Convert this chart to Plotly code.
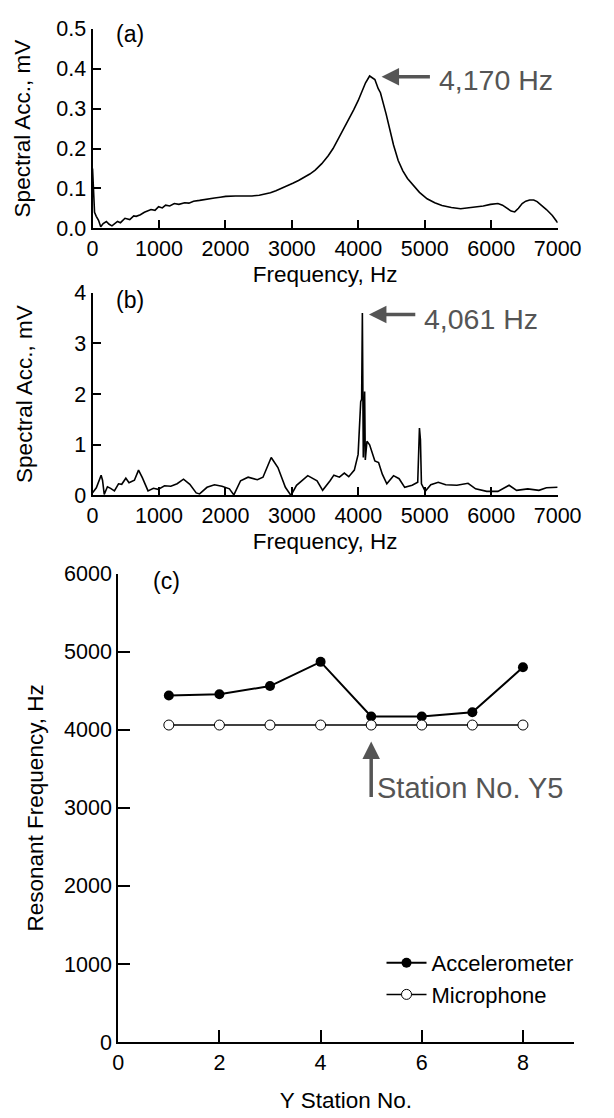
import plotly.graph_objects as go

FONT = "Liberation Sans, Arial, Helvetica, sans-serif"
GREY = "#555555"

# ---- (a) accelerometer spectrum ----
PEAK_A = 4170
freq_a = [0, 8, 15, 30, 56, 90, 123, 160, 208, 250, 292, 330, 376, 420, 488, 560,
          620, 657, 720, 780, 825, 880, 940, 994, 1050, 1100, 1162, 1230, 1300, 1386,
          1450, 1520, 1611, 1700, 1835, 1920, 2004, 2150, 2285, 2400, 2509, 2600, 2677,
          2760, 2846, 2930, 3014, 3100, 3183, 3270, 3351, 3450, 3547, 3620, 3688, 3770,
          3856, 3930, 3997, 4060, 4109, PEAK_A, 4249, 4300, 4333, 4418, 4470, 4530, 4600,
          4670, 4740, 4810, 4920, 5035, 5150, 5259, 5400, 5540, 5650, 5765, 5880, 5989,
          6101, 6170, 6242, 6300, 6354, 6410, 6466, 6520, 6578, 6640, 6691, 6760, 6831,
          6920, 7000]
acc_a = [0.15, 0.12, 0.07, 0.04, 0.03, 0.02, 0.004, 0.012, 0.017, 0.01, 0.006, 0.012,
         0.017, 0.014, 0.025, 0.022, 0.031, 0.03, 0.034, 0.04, 0.043, 0.047, 0.045,
         0.054, 0.051, 0.058, 0.056, 0.062, 0.06, 0.064, 0.063, 0.068, 0.07, 0.073,
         0.076, 0.078, 0.08, 0.081, 0.081, 0.081, 0.083, 0.086, 0.089, 0.094, 0.1,
         0.106, 0.113, 0.12, 0.127, 0.136, 0.146, 0.162, 0.182, 0.2, 0.221, 0.246,
         0.271, 0.297, 0.32, 0.345, 0.365, 0.382, 0.373, 0.35, 0.34, 0.287, 0.25,
         0.209, 0.17, 0.144, 0.125, 0.111, 0.09, 0.074, 0.064, 0.057, 0.052, 0.049,
         0.051, 0.053, 0.056, 0.06, 0.062, 0.058, 0.049, 0.043, 0.041, 0.05, 0.062,
         0.068, 0.071, 0.071, 0.067, 0.058, 0.047, 0.032, 0.014]

# ---- (b) microphone spectrum ----
PEAK_B = 4061
freq_b = [0, 57, 129, 150, 176, 224, 272, 329, 391, 439, 501, 549, 630, 692, 749, 835,
          916, 987, 1083, 1178, 1273, 1369, 1464, 1560, 1611, 1723, 1835, 1948, 2060,
          2127, 2228, 2341, 2481, 2565, 2689, 2790, 2902, 2986, 3070, 3239, 3379, 3463,
          3575, 3632, 3716, 3789, 3856, 3940, 3997, 4036, 4050, PEAK_B, 4075, 4095, 4105,
          4130, 4170, 4249, 4305, 4361, 4429, 4530, 4614, 4698, 4810, 4894, 4920, 4935,
          4950, 5007, 5091, 5203, 5315, 5484, 5652, 5765, 5933, 6101, 6269, 6382, 6550,
          6718, 6831, 7000]
amp_b = [0.05, 0.15, 0.4, 0.3, 0.02, 0.17, 0.14, 0.09, 0.23, 0.22, 0.34, 0.25, 0.3,
         0.5, 0.35, 0.09, 0.14, 0.12, 0.19, 0.18, 0.23, 0.32, 0.22, 0.05, 0.03, 0.16,
         0.21, 0.18, 0.13, 0.01, 0.29, 0.36, 0.31, 0.36, 0.75, 0.55, 0.16, 0.0, 0.2,
         0.39, 0.29, 0.1, 0.29, 0.4, 0.36, 0.44, 0.37, 0.5, 0.81, 1.85, 1.9, 3.6, 0.75,
         2.05, 0.7, 1.07, 1.0, 0.68, 0.65, 0.42, 0.23, 0.39, 0.33, 0.16, 0.2, 0.26,
         1.33, 1.1, 0.23, 0.08, 0.21, 0.26, 0.21, 0.2, 0.24, 0.13, 0.08, 0.08, 0.2,
         0.1, 0.13, 0.1, 0.15, 0.16]

# ---- (c) resonant frequency by station ----
stations = [1, 2, 3, 4, 5, 6, 7, 8]
accel_res = [4440, 4455, 4560, 4870, 4170, 4170, 4225, 4800]
micro_res = [4061, 4061, 4061, 4061, 4061, 4061, 4061, 4061]

fig = go.Figure()
fig.add_trace(go.Scatter(x=freq_a, y=acc_a, xaxis="x", yaxis="y", mode="lines",
                         line=dict(color="black", width=1.6), showlegend=False))
fig.add_trace(go.Scatter(x=freq_b, y=amp_b, xaxis="x2", yaxis="y2", mode="lines",
                         line=dict(color="black", width=1.6), showlegend=False))
fig.add_trace(go.Scatter(x=stations, y=accel_res, xaxis="x3", yaxis="y3",
                         mode="lines+markers", name="Accelerometer",
                         line=dict(color="black", width=2),
                         marker=dict(color="black", size=10, symbol="circle")))
fig.add_trace(go.Scatter(x=stations, y=micro_res, xaxis="x3", yaxis="y3",
                         mode="lines+markers", name="Microphone",
                         line=dict(color="black", width=1.5),
                         marker=dict(color="white", size=10, symbol="circle",
                                     line=dict(color="black", width=1))))

tick_font = dict(family=FONT, size=21.5, color="black")
title_font = dict(family=FONT, size=22.5, color="black")


def ax_style(**kw):
    base = dict(showline=True, linecolor="black", linewidth=2, ticks="inside",
                tickcolor="black", tickwidth=2, ticklen=8, showgrid=False,
                zeroline=False, tickfont=tick_font, title_font=title_font,
                fixedrange=True)
    base.update(kw)
    return base


fig.update_layout(
    width=614, height=1118, autosize=False,
    margin=dict(l=0, r=0, t=0, b=0),
    paper_bgcolor="white", plot_bgcolor="white",
    font=dict(family=FONT, color="black"),
    xaxis=ax_style(domain=[0.1482, 0.9446], anchor="y", range=[0, 7000], dtick=1000,
                   tickformat="d", title=dict(text="Frequency, Hz", standoff=6)),
    yaxis=ax_style(domain=[0.8014, 0.9836], anchor="x", range=[0, 0.5], dtick=0.1,
                   tickformat=".1f", title=dict(text="Spectral Acc., mV", standoff=19)),
    xaxis2=ax_style(domain=[0.1482, 0.9446], anchor="y2", range=[0, 7000], dtick=1000,
                    tickformat="d", title=dict(text="Frequency, Hz", standoff=6)),
    yaxis2=ax_style(domain=[0.5572, 0.7424], anchor="x2", range=[0, 4], dtick=1,
                    title=dict(text="Spectral Acc., mV", standoff=35)),
    xaxis3=ax_style(domain=[0.1922, 0.9718], anchor="y3", range=[0, 9],
                    tickvals=[0, 2, 4, 6, 8], ticklen=12,
                    title=dict(text="Y Station No.", standoff=18)),
    yaxis3=ax_style(domain=[0.0575, 0.4857], anchor="x3", range=[0, 6000], dtick=1000,
                    tickformat="d", ticklen=12,
                    title=dict(text="Resonant Frequency, Hz", standoff=14)),
    legend=dict(x=0.643, y=0.149, xanchor="left", yanchor="top", itemwidth=40,
                bgcolor="rgba(0,0,0,0)", font=dict(family=FONT, size=22, color="black"),
                tracegroupgap=0),
)

label_font = dict(family=FONT, size=23, color="black")
note_font = dict(family=FONT, size=28.5, color=GREY)
arrow = dict(showarrow=True, arrowhead=2, arrowsize=1, arrowwidth=3.5, arrowcolor=GREY,
             text="", standoff=0)

annotations = [
    dict(text="(a)", x=330, y=0.487, xref="x", yref="y", xanchor="left",
         showarrow=False, font=label_font),
    dict(text="(b)", x=330, y=3.85, xref="x2", yref="y2", xanchor="left",
         showarrow=False, font=label_font),
    dict(text="(c)", x=0.65, y=5900, xref="x3", yref="y3", xanchor="left",
         showarrow=False, font=label_font),
    # peak markers
    dict(x=4350, y=0.38, ax=5100, ay=0.38, xref="x", yref="y", axref="x", ayref="y",
         **arrow),
    dict(text=f"{PEAK_A:,} Hz", x=5180, y=0.372, xref="x", yref="y", xanchor="left",
         showarrow=False, font=note_font),
    dict(x=4160, y=3.57, ax=4880, ay=3.57, xref="x2", yref="y2", axref="x2", ayref="y2",
         **arrow),
    dict(text=f"{PEAK_B:,} Hz", x=4960, y=3.49, xref="x2", yref="y2", xanchor="left",
         showarrow=False, font=note_font),
    # station pointer
    dict(x=5, y=3850, ax=5, ay=3120, xref="x3", yref="y3", axref="x3", ayref="y3",
         **arrow),
    dict(text="Station No. Y5", x=5.08, y=3260, xref="x3", yref="y3", xanchor="left",
         showarrow=False, font=dict(family=FONT, size=29, color=GREY)),
]
fig.update_layout(annotations=annotations)

fig.write_html("out.html")
